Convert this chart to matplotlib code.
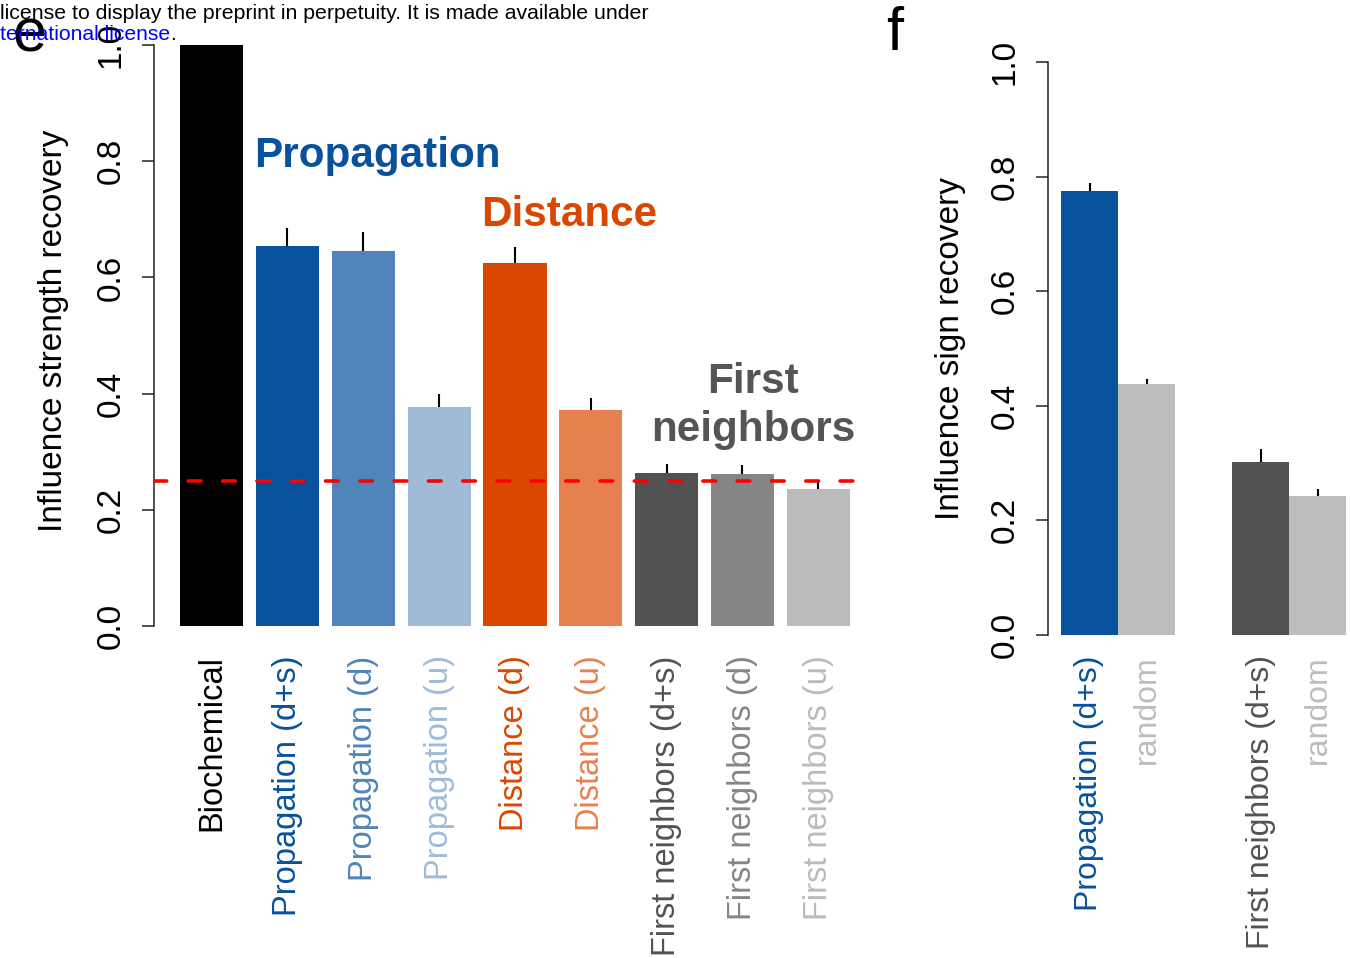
import numpy as np
import matplotlib
matplotlib.use("Agg")
import matplotlib.pyplot as plt

plt.rcParams['font.family'] = ['Liberation Sans', 'DejaVu Sans']

# panel e
e_labels = ["Biochemical", "Propagation (d+s)", "Propagation (d)", "Propagation (u)",
            "Distance (d)", "Distance (u)", "First neighbors (d+s)",
            "First neighbors (d)", "First neighbors (u)"]
e_values = [1.0, 0.654, 0.645, 0.377, 0.624, 0.372, 0.263, 0.262, 0.236]
e_errors = [0.0, 0.031, 0.034, 0.023, 0.029, 0.020, 0.016, 0.015, 0.014]
e_colors = ["#000000", "#08519C", "#4F85B9", "#9FBBD7", "#D94801", "#E6804E",
            "#525252", "#858585", "#BBBBBB"]
baseline = 0.25

# panel f
f_labels = ["Propagation (d+s)", "random", "First neighbors (d+s)", "random"]
f_values = [0.775, 0.438, 0.302, 0.243]
f_errors = [0.014, 0.009, 0.023, 0.012]
f_colors = ["#08519C", "#BDBDBD", "#525252", "#BDBDBD"]
f_labcolors = ["#08519C", "#BDBDBD", "#525252", "#BDBDBD"]

yticks = [0.0, 0.2, 0.4, 0.6, 0.8, 1.0]

W, H = 1350, 958
fig = plt.figure(figsize=(W / 100, H / 100), dpi=100)


def px_axes(x0, x1, ytop, ybot):
    return fig.add_axes([x0 / W, 1 - ybot / H, (x1 - x0) / W, (ybot - ytop) / H])


def style_axis(ax):
    for s in ["top", "right", "bottom"]:
        ax.spines[s].set_visible(False)
    ax.spines["left"].set_bounds(0, 1)
    ax.spines["left"].set_linewidth(1.1)
    ax.spines["left"].set_color("#222222")
    ax.set_ylim(-0.04, 1.04)
    ax.set_yticks(yticks, [f"{t:.1f}" for t in yticks], rotation=90, va="center")
    ax.tick_params(axis="y", length=8.6, width=1.1, color="#222222", pad=11, labelsize=24)
    ax.tick_params(axis="x", length=0, pad=4.5, labelsize=23.5)


# ---- e ----
ax = px_axes(154, 870, 21.8, 649.2)
unit = 63.2
ax.set_xlim(0.2 - 26 / unit, 0.2 + (870 - 180) / unit)
xe = 0.7 + 1.2 * np.arange(len(e_values))
ax.bar(xe, e_values, width=1.0, color=e_colors, zorder=2)
ve = np.array(e_values)
ax.vlines(xe[1:], ve[1:], ve[1:] + np.array(e_errors[1:]), color="black", lw=1.5, zorder=3)
ax.axhline(baseline, color="#FF0000", lw=2.6, linestyle=(0, (3.5, 6)),
           dash_capstyle="round", zorder=4)
style_axis(ax)
ax.set_xticks(xe, e_labels, rotation=90)
for t, c in zip(ax.get_xticklabels(), e_colors):
    t.set_color(c)

ax.text(3.33, 0.79, "Propagation", color="#08519C", fontsize=30.4, fontweight="bold",
        ha="center", va="baseline")
ax.text(6.36, 0.688, "Distance", color="#D94801", fontsize=30.4, fontweight="bold",
        ha="center", va="baseline")
ax.text(9.27, 0.401, "First", color="#555555", fontsize=30.4, fontweight="bold",
        ha="center", va="baseline")
ax.text(9.27, 0.318, "neighbors", color="#555555", fontsize=30.4, fontweight="bold",
        ha="center", va="baseline")

fig.text(54 / W, 1 - 331 / H, "Influence strength recovery", rotation=90,
         ha="center", va="center", fontsize=24)

# ---- f ----
axf = px_axes(1048, 1350, 39.1, 657.9)
fu = 57.0
axf.set_xlim(1 - 13 / fu, 1 + (1350 - 1061) / fu)
xf = np.array([1.5, 2.5, 4.5, 5.5])
axf.bar(xf, f_values, width=1.0, color=f_colors, zorder=2)
vf = np.array(f_values)
axf.vlines(xf, vf, vf + np.array(f_errors), color="black", lw=1.5, zorder=3)
style_axis(axf)
axf.tick_params(axis="x", pad=-2, labelsize=23)
axf.set_xticks(xf, f_labels, rotation=90)
for t, c in zip(axf.get_xticklabels(), f_labcolors):
    t.set_color(c)

fig.text(950 / W, 1 - 348 / H, "Influence sign recovery", rotation=90,
         ha="center", va="center", fontsize=24)

# panel letters
fig.text(12 / W, 1 - 52 / H, "e", fontsize=44, va="baseline", ha="left")
fig.text(886 / W, 1 - 50 / H, "f", fontsize=44, va="baseline", ha="left")

# header remnants of the preprint page
fig.text(0, 1 - 19 / H, "license to display the preprint in perpetuity. It is made available under",
         fontsize=15.3, va="baseline", ha="left")
t2 = fig.text(0, 1 - 40 / H, "ternational license", color="#0000FF",
              fontsize=15.2, va="baseline", ha="left")
ax.annotate(".", xy=(1, 0), xycoords=t2, va="bottom", ha="left", fontsize=15.2,
            annotation_clip=False)

fig.savefig("out.png", dpi=100)
